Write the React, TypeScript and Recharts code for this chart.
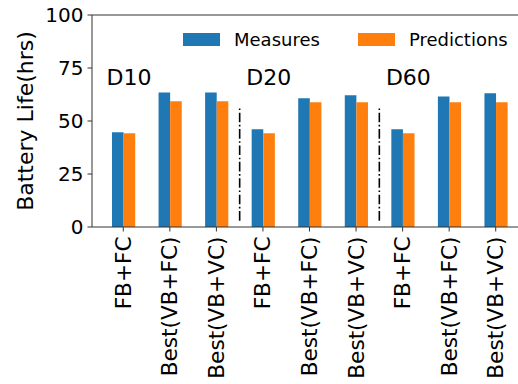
import React from 'react';
import { BarChart, Bar, XAxis, YAxis, ReferenceLine, ReferenceDot, Legend } from 'recharts';

const categories = [
    'FB+FC', 'Best(VB+FC)', 'Best(VB+VC)',
    'FB+FC', 'Best(VB+FC)', 'Best(VB+VC)',
    'FB+FC', 'Best(VB+FC)', 'Best(VB+VC)',
];
const groups = ['D10', 'D20', 'D60'];
const measures = [44.7, 63.5, 63.5, 46.1, 60.7, 62.1, 46.1, 61.6, 63.1];
const predictions = [44.2, 59.3, 59.3, 44.2, 58.8, 58.8, 44.2, 58.8, 58.8];
const yTicks = [0, 25, 50, 75, 100];
const groupLabelY = 67;
const separatorRange = [3, 56.6];

const BLUE = '#1f77b4';
const ORANGE = '#ff7f0e';
const AXIS = '#333';
const FONT = '"DejaVu Sans", sans-serif';

const data = categories.map((name, i) => ({
    key: `c${i}`,
    name,
    measures: measures[i],
    predictions: predictions[i],
}));

const XTick = (props: any) => {
    const { x, y, payload } = props;
    const idx = data.findIndex((d) => d.key === payload.value);
    return (
        <text
            x={x}
            y={y}
            dy="0.35em"
            textAnchor="end"
            transform={`rotate(-90, ${x}, ${y})`}
            fontSize={21.6}
            fontFamily={FONT}
            fill="#000"
        >
            {categories[idx]}
        </text>
    );
};

const YLabel = (props: any) => {
    const { viewBox } = props;
    const cx = 25;
    const cy = viewBox.y + viewBox.height / 2;
    return (
        <text
            x={cx}
            y={cy}
            dy="0.35em"
            textAnchor="middle"
            transform={`rotate(-90, ${cx}, ${cy})`}
            fontSize={22}
            fontFamily={FONT}
            fill="#000"
        >
            Battery Life(hrs)
        </text>
    );
};

const groupLabel = (text: string) => (props: any) => {
    const { viewBox } = props;
    const cx = viewBox.x + (viewBox.width || 0) / 2;
    const cy = viewBox.y + (viewBox.height || 0) / 2;
    return (
        <text x={cx - 16.7} y={cy} fontSize={22} fontFamily={FONT} fill="#000">
            {text}
        </text>
    );
};

const LegendBox = () => (
    <div style={{ display: 'flex', alignItems: 'center', fontFamily: FONT, fontSize: 18, color: '#000' }}>
        <span style={{ width: 37, height: 13, background: BLUE, display: 'inline-block' }} />
        <span style={{ marginLeft: 14, marginRight: 38 }}>Measures</span>
        <span style={{ width: 37, height: 13, background: ORANGE, display: 'inline-block' }} />
        <span style={{ marginLeft: 14 }}>Predictions</span>
    </div>
);

export default function App() {
    return (
        <div style={{ position: 'absolute', left: 0, top: 0, width: 518, height: 384, overflow: 'hidden', background: '#fff' }}>
            <BarChart
                width={540}
                height={384}
                data={data}
                margin={{ top: 15, right: 13, left: 0, bottom: 0 }}
                barGap={0}
                barSize={11.6}
            >
                <XAxis
                    dataKey="key"
                    interval={0}
                    height={157}
                    padding={{ left: 8, right: 8 }}
                    tickSize={4.5}
                    tickMargin={5}
                    tick={<XTick />}
                    axisLine={{ stroke: AXIS, strokeWidth: 1 }}
                    tickLine={{ stroke: AXIS }}
                />
                <YAxis
                    width={92}
                    domain={[0, 100]}
                    ticks={yTicks}
                    tickSize={4.5}
                    tickMargin={4}
                    tick={{ fontSize: 20, fontFamily: FONT, fill: '#000' }}
                    axisLine={{ stroke: AXIS, strokeWidth: 1 }}
                    tickLine={{ stroke: AXIS }}
                    label={<YLabel />}
                />
                <ReferenceLine y={100} stroke={AXIS} strokeWidth={1} />
                <Legend
                    layout="horizontal"
                    verticalAlign="middle"
                    align="center"
                    content={<LegendBox />}
                    wrapperStyle={{ top: 29, left: 183, width: 'auto' }}
                />
                <Bar dataKey="measures" name="Measures" fill={BLUE} isAnimationActive={false} />
                <Bar dataKey="predictions" name="Predictions" fill={ORANGE} isAnimationActive={false} />
                {[2, 5].map((i) => (
                    <ReferenceLine
                        key={`sep${i}`}
                        segment={[
                            { x: `c${i}`, y: separatorRange[0] },
                            { x: `c${i}`, y: separatorRange[1] },
                        ]}
                        position="end"
                        stroke="#000"
                        strokeWidth={1.6}
                        strokeDasharray="9.6 2.6 1.6 2.6"
                    />
                ))}
                {groups.map((g, gi) => (
                    <ReferenceDot
                        key={g}
                        x={`c${gi * 3}`}
                        y={groupLabelY}
                        r={1}
                        fill="none"
                        stroke="none"
                        label={groupLabel(g)}
                    />
                ))}
            </BarChart>
        </div>
    );
}
